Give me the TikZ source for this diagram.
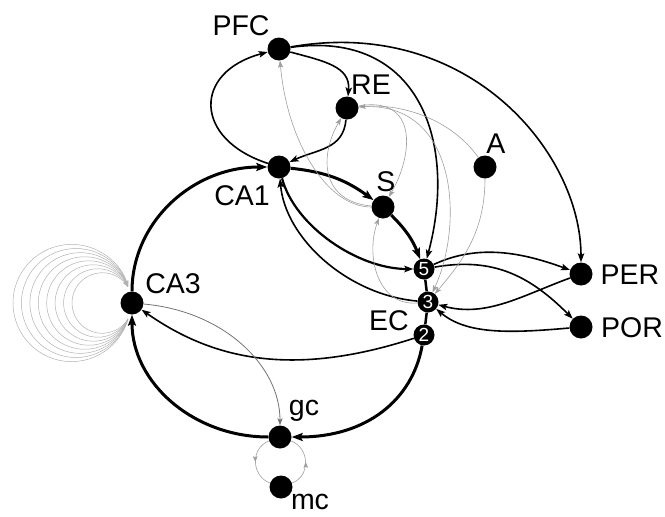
\documentclass[tikz,border=0pt]{standalone}
\usepackage{fontspec}
\setmainfont{Liberation Sans}
\usetikzlibrary{arrows.meta,decorations.markings,calc}
\begin{document}
\begin{tikzpicture}[x=1pt,y=1pt,
  nd/.style={circle,fill=black,minimum size=23pt,inner sep=0pt},
  ecn/.style={circle,fill=black,minimum size=21pt,inner sep=0pt,text=white,font=\fontsize{19}{19}\selectfont},
  lab/.style={font=\fontsize{28.5}{30}\selectfont,inner sep=0pt},
  thk/.style={line width=3pt,-{Stealth[length=11pt,width=8pt,inset=2pt]}},
  med/.style={line width=1.6pt,-{Stealth[length=9pt,width=6.5pt,inset=2pt]}},
  thn/.style={line width=0.6pt,gray!75,-{Stealth[length=7pt,width=5pt,inset=1.5pt]}},
  lp/.style={line width=0.5pt,gray!60,-{Stealth[length=6pt,width=4pt,inset=1pt]}},
  midarr/.style={line width=0.6pt,gray!75,postaction={decorate},decoration={markings,mark=at position 0.5 with {\arrow{Stealth[length=6pt,width=4.5pt,inset=1pt]}}}},
]
\useasboundingbox (0,0) rectangle (665,-517);
% nodes
\node[nd] (PFC) at (279,-49) {};
\node[nd] (RE) at (347,-108) {};
\node[nd] (A) at (485,-167) {};
\node[nd] (CA1) at (279,-167) {};
\node[nd] (S) at (383,-207) {};
\node[ecn] (EC5) at (424,-269) {5};
\node[ecn] (EC3) at (428,-302) {3};
\node[ecn] (EC2) at (424,-335) {2};
\node[nd] (PER) at (581,-274) {};
\node[nd] (POR) at (581,-327) {};
\node[nd] (CA3) at (132,-303) {};
\node[nd] (gc) at (280,-437) {};
\node[nd] (mc) at (281,-487) {};
% labels
\node[lab] (lPFC) at (241,-26) {PFC};
\node[lab] (lRE) at (371,-85) {RE};
\node[lab] (lA) at (496,-144) {A};
\node[lab] (lCA1) at (242,-196) {CA1};
\node[lab] (lS) at (386,-182) {S};
\node[lab] (lEC) at (389,-321) {EC};
\node[lab] (lPER) at (630,-275) {PER};
\node[lab] (lPOR) at (632,-328) {POR};
\node[lab] (lCA3) at (173,-284) {CA3};
\node[lab] (lgc) at (304,-411) {gc};
\node[lab] (lmc) at (310,-502) {mc};
% CA3 self loops
\foreach \d in {115,106.6,98.1,89.7,81.3,72.9,64.4,56}{
  \pgfmathsetmacro\rr{(\d*\d+256)/(2*\d)}
  \pgfmathsetmacro\pp{asin(16/\rr)}
  \draw[lp] ([shift={(-4,-16)}]CA3.center) arc[start angle=-\pp, end angle=\pp-360, radius=\rr];
}
% EC column
\draw[line width=2.5pt] (EC5) -- (EC3) -- (EC2);
% thick trisynaptic circle
\draw[thk] (CA3) to[out=90,in=180,out distance=69pt,in distance=75pt] (CA1);
\draw[thk] (gc) to[out=180,in=-90,out distance=75pt,in distance=68pt] (CA3);
\draw[thk] (EC2) to[out=-100,in=0,out distance=55pt,in distance=75pt] (gc);
\draw[thk] (CA1) to[bend left=15] (S);
\draw[thk] (S) to[bend left=12] (EC5);
% medium
\draw[med,line width=2.2pt] (CA1) to[out=-75,in=180,out distance=50pt,in distance=55pt] (EC5);
\draw[med] (EC3) to[out=175,in=-85,out distance=70pt,in distance=60pt] (CA1);
\draw[med] (EC2) to[out=198,in=-35,out distance=130pt,in distance=85pt] (CA3);
\draw[med] (CA1) to[out=162,in=195,distance=78pt] (PFC);
\draw[med] (PFC) to[out=-15,in=85,out distance=35pt,in distance=30pt] (RE);
\draw[med] (RE) to[out=-95,in=25,distance=30pt] (CA1);
\draw[med] (PFC) to[out=8,in=75,out distance=130pt,in distance=120pt] (EC5);
\draw[med] (PFC) to[out=10,in=90,out distance=180pt,in distance=110pt] (PER);
\draw[med] (EC5) to[out=25,in=160,distance=50pt] (PER);
\draw[med] (EC5) to[out=10,in=135,distance=60pt] (POR);
\draw[med] (PER) to[out=200,in=-15,distance=50pt] (EC3);
\draw[med] (POR) to[out=185,in=-40,out distance=60pt,in distance=40pt] (EC3);
% thin
\draw[thn,gray!90!black,line width=0.8pt] (CA3) to[out=-5,in=90,out distance=80pt,in distance=60pt] (gc);
\draw[thn] (S) to[out=180,in=-85,out distance=45pt,in distance=80pt] (PFC);
\draw[thn] (S) to[out=175,in=240,out distance=50pt,in distance=45pt] (RE);
\draw[thn] (RE) to[out=10,in=60,out distance=60pt,in distance=50pt] (S);
\draw[thn] (EC3) to[out=185,in=-110,distance=40pt] (S);
\draw[thn] (A) to[out=125,in=5,distance=45pt] (RE);
\draw[thn] (RE) to[out=5,in=65,out distance=100pt,in distance=75pt] (EC3);
\draw[thn] (A) to[out=-90,in=50,out distance=55pt,in distance=40pt] (EC3);
% gc - mc
\draw[midarr] (gc) to[out=200,in=160,distance=20pt] (mc);
\draw[midarr] (mc) to[out=20,in=-20,distance=20pt] (gc);
\end{tikzpicture}
\end{document}
